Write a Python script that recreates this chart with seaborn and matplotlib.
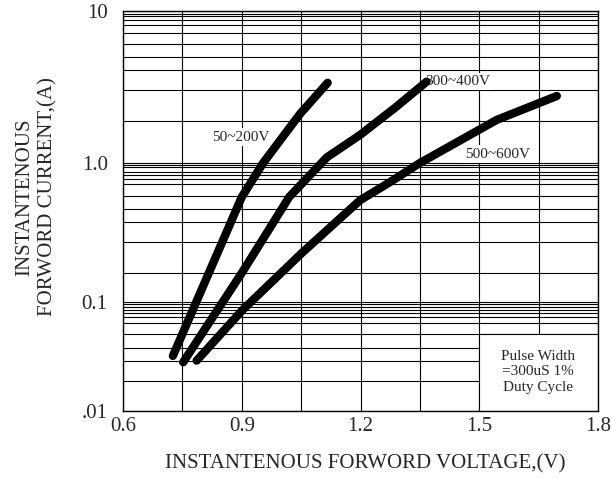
import numpy as np
import pandas as pd
import matplotlib
matplotlib.use("Agg")
import matplotlib.pyplot as plt
from matplotlib.patches import Rectangle
import seaborn as sns

# curve data (voltage V, current A)
v_50_200 = [0.726, 0.900, 0.954, 1.047, 1.117]
i_50_200 = [0.032, 0.569, 1.00, 2.10, 3.37]

v_300_400 = [0.752, 0.902, 1.020, 1.115, 1.199, 1.291, 1.367]
i_300_400 = [0.028, 0.165, 0.57, 1.09, 1.53, 2.35, 3.43]

v_500_600 = [0.786, 0.902, 1.051, 1.199, 1.275, 1.350, 1.544, 1.696]
i_500_600 = [0.029, 0.0845, 0.224, 0.54, 0.73, 1.00, 1.92, 2.76]

series_names = ["50~200V", "300~400V", "500~600V"]
label_pos = [(0.898, 1.48), (1.446, 3.43), (1.547, 1.146)]

x_ticks = [0.6, 0.9, 1.2, 1.5, 1.8]
x_minor = [0.75, 1.05, 1.35, 1.65]
y_ticks = [0.01, 0.1, 1.0, 10]
y_ticklabels = [".01", "0.1", "1.0", "10"]
# horizontal grid lines of the printed sheet (not a clean log grid)
y_grid = ([0.0188, 0.0287, 0.0381, 0.0505, 0.0638, 0.0733, 0.0788, 0.0845, 0.0894, 0.0952] +
          [0.162, 0.272, 0.378, 0.464, 0.579, 0.703, 0.763, 0.82, 0.857, 0.931, 0.968] +
          [1.89, 3.0, 4.07, 4.96, 6.09, 7.16, 8.05, 8.69, 9.27, 9.6])

# the paper's decades are not equally tall: build a piecewise log scale
dec_log = [-3, -2, -1, 0, 1, 2]
dec_pos = [-109, 0, 109, 248, 400, 552]

def fwd(y):
    y = np.maximum(np.asarray(y, dtype=float), 1e-9)
    return np.interp(np.log10(y), dec_log, dec_pos)

def inv(p):
    return 10 ** np.interp(np.asarray(p, dtype=float), dec_pos, dec_log)

sns.set_style("white")
plt.rcParams['font.family'] = ['Liberation Serif', 'DejaVu Serif']

fig = plt.figure(figsize=(6.12, 4.78), dpi=100)
ax = fig.add_axes([123/612, 67/478, 475/612, 400/478])

ax.set_yscale('function', functions=(fwd, inv))

df = pd.concat([
    pd.DataFrame({"V": v_50_200, "I": i_50_200, "s": series_names[0]}),
    pd.DataFrame({"V": v_300_400, "I": i_300_400, "s": series_names[1]}),
    pd.DataFrame({"V": v_500_600, "I": i_500_600, "s": series_names[2]}),
])
for name in series_names:
    sns.lineplot(data=df[df.s == name], x="V", y="I", color="black", lw=6.0,
                 sort=False, estimator=None, ax=ax,
                 solid_capstyle="round", solid_joinstyle="round", zorder=3)

ax.set_xlim(0.6, 1.8)
ax.set_ylim(0.01, 10)
ax.set_xticks(x_ticks, [f"{t:.1f}" for t in x_ticks])
ax.set_xticks(x_minor, minor=True)
ax.set_yticks(y_ticks, y_ticklabels)
ax.set_yticks(y_grid, minor=True)
ax.tick_params(which="both", length=0, labelsize=15)
ax.tick_params(axis="y", pad=11)
ax.tick_params(axis="x", pad=4)
ax.grid(True, which="both", color="black", lw=0.8)
ax.set_axisbelow(True)
for sp in ax.spines.values():
    sp.set_color("black")
    sp.set_linewidth(1.0)

for name, (lx, ly) in zip(series_names, label_pos):
    ax.text(lx, ly, name, fontsize=11, ha="center", va="center", zorder=2,
            bbox=dict(fc="white", ec="none", pad=1.5))

ax.add_patch(Rectangle((1.5, 0.01), 0.3, 0.0405, fc="white", ec="black",
                       lw=0.8, zorder=2))
ax.text(1.648, 0.0228, "Pulse Width\n=300uS 1%\nDuty Cycle", fontsize=11,
        ha="center", va="center", linespacing=1.25, zorder=3)

ax.set_xlabel("INSTANTENOUS FORWORD VOLTAGE,(V)", fontsize=15)
ax.xaxis.set_label_coords(0.509, -0.1325)
ax.xaxis.label.set_va("center")
ax.set_ylabel("INSTANTENOUS\nFORWORD CURRENT,(A)", fontsize=15, linespacing=1.3)
ax.yaxis.set_label_coords(-0.182, 0.535)
ax.yaxis.label.set_va("center")

fig.savefig("out.png", dpi=100)
